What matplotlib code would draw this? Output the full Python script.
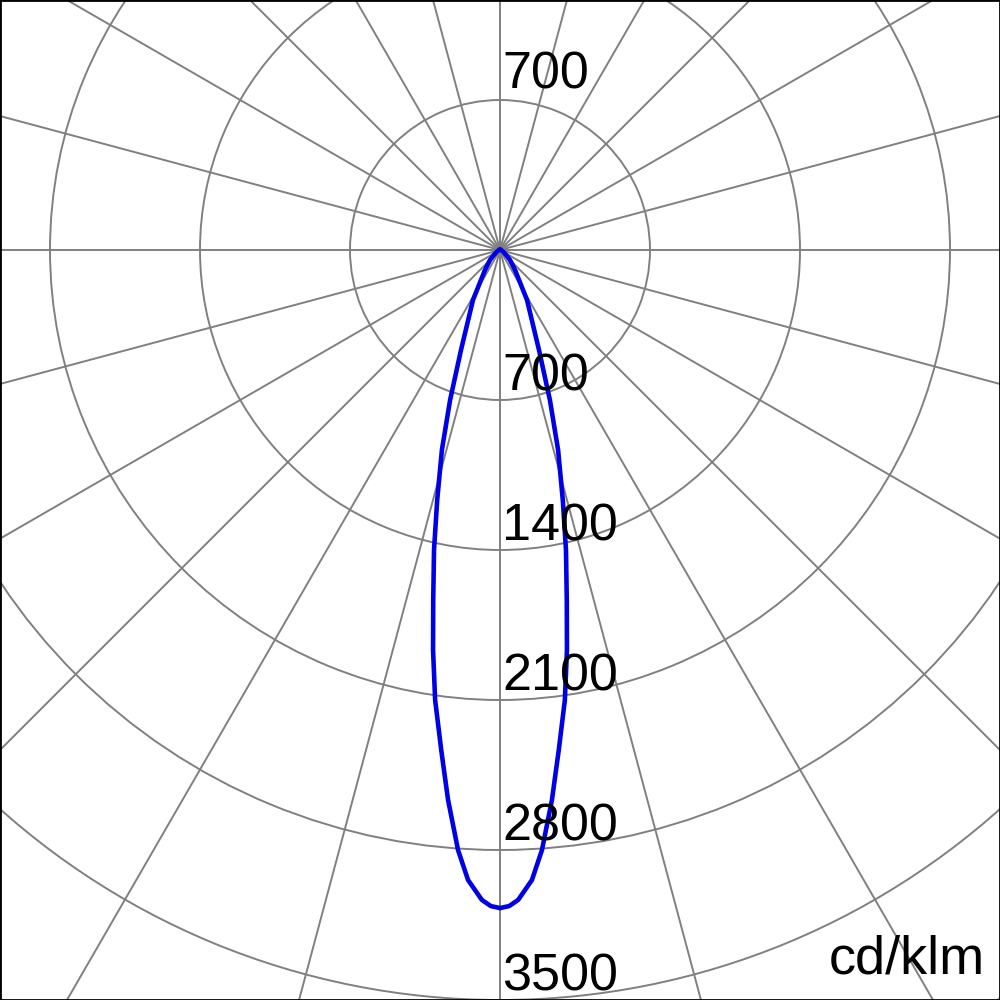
import numpy as np
import matplotlib.pyplot as plt
from matplotlib.patches import Rectangle

plt.rcParams['font.family'] = ['Liberation Sans', 'DejaVu Sans']

# Lichtstärkeverteilung (Winkel ab Nadir in Grad, Werte in cd/klm)
gamma = [0, 0.8, 1.6, 2.9, 4.0, 5.4, 6.7, 8.2, 9.5, 10.8, 12.4, 14.1, 16.2, 18.4,
         21.3, 28.4, 36.9, 45, 50, 60, 75, 90]
intensity = [3071, 3062, 3034, 2944, 2807, 2577, 2350, 2122, 1893, 1663, 1434, 1203, 972, 738,
             501, 265, 117, 66, 40, 18, 8, 5]

ring_values = [700, 1400, 2100, 2800, 3500, 4200]
ring_labels = ['700', '1400', '2100', '2800', '3500']

# Kurve symmetrisch spiegeln
g = np.array(gamma, dtype=float)
i = np.array(intensity, dtype=float)
theta = np.radians(np.concatenate([-g[::-1], g[1:]]))
r = np.concatenate([i[::-1], i[1:]])

fig = plt.figure(figsize=(10, 10), dpi=100)

# Mittelpunkt bei (500, 250) px, 150 px je 700 cd/klm
r_max = 4300
R = r_max * 150 / 700 / 1000
ax = fig.add_axes([0.5 - R, 0.75 - R, 2 * R, 2 * R], projection='polar')
ax.set_theta_zero_location('S')
ax.set_ylim(0, r_max)
ax.set_thetagrids(np.arange(0, 360, 15), labels=[''] * 24)
ax.set_rgrids(ring_values, labels=[''] * len(ring_values))
ax.grid(True, color='#808080', linewidth=1.4)
ax.spines['polar'].set_visible(False)
ax.tick_params(length=0)

ax.plot(theta, r, color='#0000e6', linewidth=3.3, zorder=5, solid_joinstyle='round')

# Beschriftung der Ringe
for val, lab in zip(ring_values, ring_labels):
    ax.annotate(lab, xy=(0, val), xytext=(1.5, 6.5), textcoords='offset points',
                ha='left', va='baseline', fontsize=37.5, color='black', zorder=6)
ax.annotate('700', xy=(np.pi, 700), xytext=(1.5, 8), textcoords='offset points',
            ha='left', va='baseline', fontsize=37.5, color='black', zorder=6)

fig.text(0.985, 0.026, 'cd/klm', ha='right', va='baseline', fontsize=39, color='black')

fig.patches.append(Rectangle((0, 0), 1, 1, transform=fig.transFigure, fill=False,
                             edgecolor='black', linewidth=2, zorder=10))

fig.savefig('out.png', dpi=100)
